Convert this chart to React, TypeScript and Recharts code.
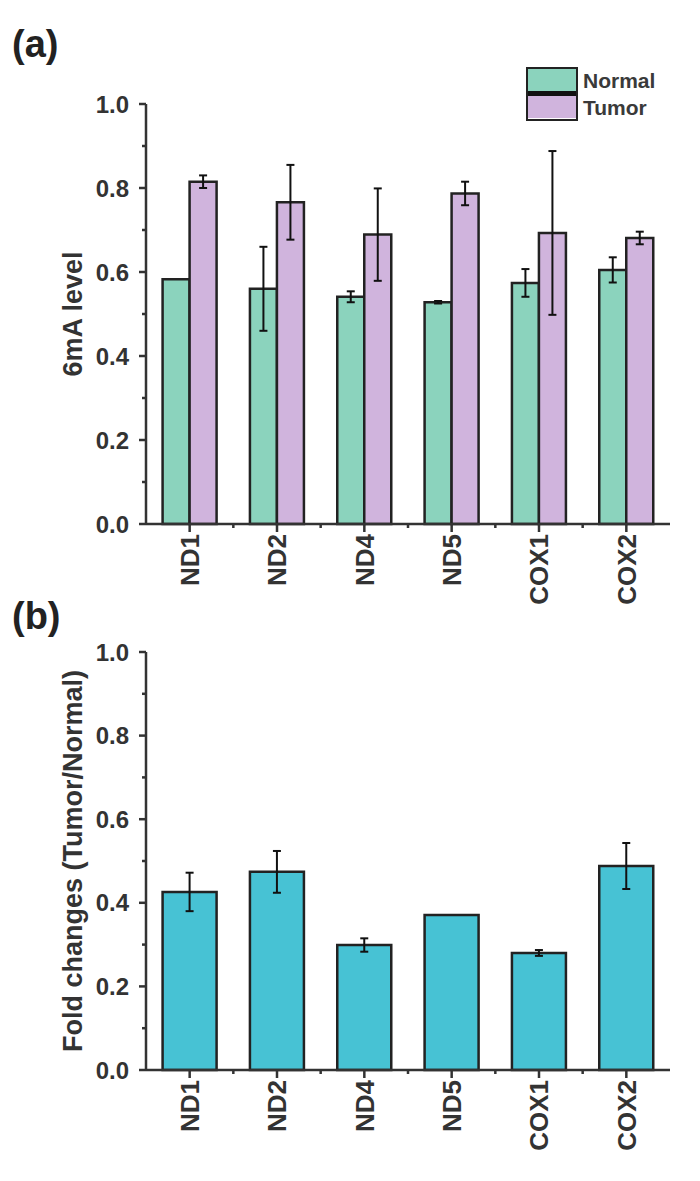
import { BarChart, Bar, XAxis, YAxis, ErrorBar, Label } from 'recharts';

const genes = ['ND1', 'ND2', 'ND4', 'ND5', 'COX1', 'COX2'];
const normal = [0.583, 0.56, 0.541, 0.528, 0.574, 0.605];
const normalErr = [0, 0.1, 0.013, 0.003, 0.033, 0.03];
const tumor = [0.815, 0.766, 0.689, 0.787, 0.693, 0.681];
const tumorErr = [0.015, 0.089, 0.11, 0.028, 0.195, 0.015];
const fold = [0.426, 0.474, 0.299, 0.371, 0.28, 0.488];
const foldErr = [0.046, 0.05, 0.016, 0, 0.007, 0.055];
const yTicks = [0, 0.1, 0.2, 0.3, 0.4, 0.5, 0.6, 0.7, 0.8, 0.9, 1.0];

const levelData = genes.map((gene, i) => ({
  gene,
  normal: normal[i],
  normalErr: normalErr[i],
  tumor: tumor[i],
  tumorErr: tumorErr[i],
}));

const foldData = genes.map((gene, i) => ({
  gene,
  fold: fold[i],
  foldErr: foldErr[i],
}));

const FONT = 'Arial, "Liberation Sans", Helvetica, sans-serif';
const INK = '#333';
const EDGE = '#222';

const CHART_W = 700;
const MARGIN_L = 66;
const AXIS_W = 80;
const MARGIN_R = 30;
const BAND = (CHART_W - MARGIN_L - AXIS_W - MARGIN_R) / genes.length;

const YTick = (props: any) => {
  const { x, y, payload } = props;
  const major = Math.round(payload.value * 10) % 2 === 0;
  return (
    <g>
      <line x1={x - (major ? 7 : 4)} y1={y} x2={x} y2={y} stroke={INK} strokeWidth={2.5} />
      {major && (
        <text
          x={x - 17}
          y={y}
          dy="0.36em"
          textAnchor="end"
          fontFamily={FONT}
          fontWeight="bold"
          fontSize={24}
          fill={INK}
        >
          {payload.value.toFixed(1)}
        </text>
      )}
    </g>
  );
};

const XTick = (props: any) => {
  const { x, y, payload, index } = props;
  return (
    <g>
      <line x1={x} y1={y} x2={x} y2={y + 8} stroke={INK} strokeWidth={2.5} />
      {index < genes.length - 1 && (
        <line x1={x + BAND / 2} y1={y} x2={x + BAND / 2} y2={y + 4} stroke={INK} strokeWidth={2.5} />
      )}
      <text
        x={x}
        y={y + 10}
        dy="0.36em"
        transform={`rotate(-90 ${x} ${y + 10})`}
        textAnchor="end"
        fontFamily={FONT}
        fontWeight="bold"
        fontSize={26}
        fill={INK}
      >
        {payload.value}
      </text>
    </g>
  );
};

const yTitle = (text: string) => (props: any) => {
  const vb = props.viewBox;
  const cx = vb.x + 6;
  const cy = vb.y + vb.height / 2;
  return (
    <text
      x={cx}
      y={cy}
      dy="0.36em"
      transform={`rotate(-90 ${cx} ${cy})`}
      textAnchor="middle"
      fontFamily={FONT}
      fontWeight="bold"
      fontSize={27}
      fill={INK}
    >
      {text}
    </text>
  );
};

const panelTitle = (text: string, top: number) => (
  <div
    style={{
      position: 'absolute',
      left: 12,
      top,
      fontFamily: FONT,
      fontWeight: 'bold',
      fontSize: 38,
      lineHeight: 1,
      color: '#222',
    }}
  >
    {text}
  </div>
);

const swatchText = {
  fontFamily: FONT,
  fontWeight: 'bold' as const,
  fontSize: 21,
  color: '#3a3a3a',
  lineHeight: 1,
};

const App = () => {
  return (
    <div style={{ position: 'absolute', left: 0, top: 0, width: 700, height: 1181, background: '#fff' }}>
      {panelTitle('(a)', 25)}
      {panelTitle('(b)', 597)}

      <div style={{ position: 'absolute', left: 0, top: 0 }}>
        <BarChart
          width={CHART_W}
          height={620}
          data={levelData}
          margin={{ top: 104, right: MARGIN_R, bottom: 95, left: MARGIN_L }}
          barCategoryGap="19%"
          barGap={0}
        >
          <XAxis
            dataKey="gene"
            height={1}
            interval={0}
            tickLine={false}
            tickSize={0}
            tickMargin={0}
            axisLine={{ stroke: INK, strokeWidth: 2.5 }}
            tick={<XTick />}
          />
          <YAxis
            type="number"
            domain={[0, 1]}
            ticks={yTicks}
            width={AXIS_W}
            tickLine={false}
            tickSize={0}
            tickMargin={0}
            axisLine={{ stroke: INK, strokeWidth: 2.5 }}
            tick={<YTick />}
          >
            <Label content={yTitle('6mA level')} />
          </YAxis>
          <Bar dataKey="normal" fill="#8bd3bd" stroke={EDGE} strokeWidth={2.5} isAnimationActive={false}>
            <ErrorBar dataKey="normalErr" width={4} stroke="#111" strokeWidth={2} />
          </Bar>
          <Bar dataKey="tumor" fill="#d0b4dd" stroke={EDGE} strokeWidth={2.5} isAnimationActive={false}>
            <ErrorBar dataKey="tumorErr" width={4} stroke="#111" strokeWidth={2} />
          </Bar>
        </BarChart>
      </div>

      {/* legend */}
      <div style={{ position: 'absolute', left: 526, top: 67, width: 52, height: 54, boxSizing: 'border-box', border: `2.5px solid ${EDGE}` }}>
        <div style={{ height: 22, background: '#8bd3bd' }} />
        <div style={{ height: 5, background: '#111' }} />
        <div style={{ height: 22, background: '#d0b4dd' }} />
      </div>
      <div style={{ ...swatchText, position: 'absolute', left: 583, top: 70 }}>Normal</div>
      <div style={{ ...swatchText, position: 'absolute', left: 583, top: 97 }}>Tumor</div>

      <div style={{ position: 'absolute', left: 0, top: 620 }}>
        <BarChart
          width={CHART_W}
          height={561}
          data={foldData}
          margin={{ top: 32, right: MARGIN_R, bottom: 110, left: MARGIN_L }}
          barCategoryGap="19%"
        >
          <XAxis
            dataKey="gene"
            height={1}
            interval={0}
            tickLine={false}
            tickSize={0}
            tickMargin={0}
            axisLine={{ stroke: INK, strokeWidth: 2.5 }}
            tick={<XTick />}
          />
          <YAxis
            type="number"
            domain={[0, 1]}
            ticks={yTicks}
            width={AXIS_W}
            tickLine={false}
            tickSize={0}
            tickMargin={0}
            axisLine={{ stroke: INK, strokeWidth: 2.5 }}
            tick={<YTick />}
          >
            <Label content={yTitle('Fold changes (Tumor/Normal)')} />
          </YAxis>
          <Bar dataKey="fold" fill="#47c2d4" stroke={EDGE} strokeWidth={2.5} isAnimationActive={false}>
            <ErrorBar dataKey="foldErr" width={4} stroke="#111" strokeWidth={2} />
          </Bar>
        </BarChart>
      </div>
    </div>
  );
};

export default App;
